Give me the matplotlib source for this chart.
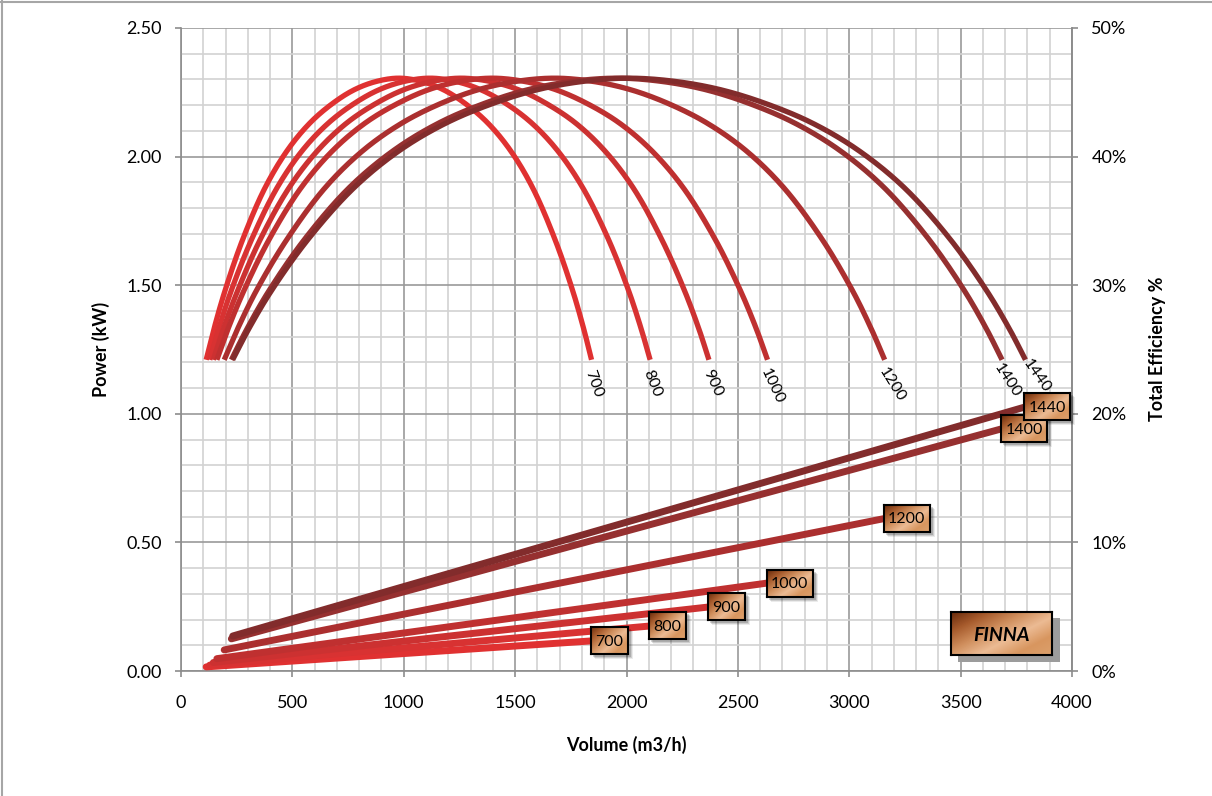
import numpy as np
import matplotlib
matplotlib.use("Agg")
import matplotlib.pyplot as plt
from matplotlib.colors import LinearSegmentedColormap
from matplotlib.patches import Rectangle
from matplotlib.lines import Line2D
from matplotlib.ticker import MultipleLocator, FuncFormatter

# fan speeds (rpm)
speeds = [700, 800, 900, 1000, 1200, 1400, 1440]

# efficiency curves: volume points per speed, efficiency in %
eff_pct = [24.2, 26.6, 29.6, 33.6, 37.6, 40.5, 42.6, 44.1, 45.2, 45.85, 46.1,
           45.85, 45.2, 44.1, 42.6, 40.5, 37.6, 33.6, 29.6, 26.6, 24.2]
q700 = [113, 148, 198, 278, 378, 478, 578, 678, 778, 878, 978,
        1078, 1178, 1278, 1378, 1478, 1578, 1678, 1758, 1808, 1843]
q800 = [129, 169, 226, 318, 432, 546, 661, 775, 889, 1003, 1118,
        1232, 1346, 1461, 1575, 1689, 1803, 1918, 2009, 2066, 2106]
q900 = [145, 190, 255, 357, 486, 615, 743, 872, 1000, 1129, 1257,
        1386, 1515, 1643, 1772, 1900, 2029, 2157, 2260, 2325, 2370]
q1000 = [161, 211, 283, 397, 540, 683, 826, 969, 1111, 1254, 1397,
         1540, 1683, 1826, 1969, 2111, 2254, 2397, 2511, 2583, 2633]
q1200 = [194, 254, 339, 477, 648, 819, 991, 1162, 1334, 1505, 1677,
         1848, 2019, 2191, 2362, 2534, 2705, 2877, 3014, 3099, 3159]
q1400 = [226, 296, 396, 556, 756, 956, 1156, 1356, 1556, 1756, 1956,
         2156, 2356, 2556, 2756, 2956, 3156, 3356, 3516, 3616, 3686]
q1440 = [232, 304, 407, 572, 778, 983, 1189, 1395, 1600, 1806, 2012,
         2218, 2423, 2629, 2835, 3040, 3246, 3452, 3616, 3719, 3791]
eff_q = [q700, q800, q900, q1000, q1200, q1400, q1440]

# power lines (kW)
pw_q_start = [113, 129, 145, 161, 194, 226, 232]
pw_start = [0.016, 0.023, 0.033, 0.048, 0.082, 0.125, 0.136]
pw_q_end = [1843, 2106, 2370, 2633, 3159, 3686, 3791]
pw_end = [0.117, 0.175, 0.249, 0.342, 0.593, 0.942, 1.027]

labels = [str(s) for s in speeds]

colors = ["#e03131", "#d83232", "#cc3131", "#bf3030", "#ab2f2f", "#963030", "#822c2c"]
label_rot = [-70, -68, -65, -65, -58, -57, -55]
label_off = [(1.5, -17), (1.5, -17), (2.5, -17), (3.5, -19), (5, -18), (3.5, -15), (8, -12)]

W, H = 1212, 796
plt.rcParams["font.family"] = ["Lato", "DejaVu Sans"]

brown = LinearSegmentedColormap.from_list(
    "brown", ["#6a2c0c", "#a65a2c", "#cf8e5c", "#ecbb94", "#d8965f", "#dca06c"])


def smooth_line(x, y, sx=4000 / 891, sy=50 / 643, steps=24):
    # centripetal Catmull-Rom in pixel space (smoothed line like the original)
    p = np.column_stack([np.asarray(x, float) / sx, np.asarray(y, float) / sy])
    p = np.vstack([2 * p[0] - p[1], p, 2 * p[-1] - p[-2]])
    out = []
    for i in range(1, len(p) - 2):
        P0, P1, P2, P3 = p[i - 1], p[i], p[i + 1], p[i + 2]
        t0 = 0.0
        t1 = t0 + np.linalg.norm(P1 - P0) ** 0.5
        t2 = t1 + np.linalg.norm(P2 - P1) ** 0.5
        t3 = t2 + np.linalg.norm(P3 - P2) ** 0.5
        t = np.linspace(t1, t2, steps, endpoint=False)[:, None]
        A1 = (t1 - t) / (t1 - t0) * P0 + (t - t0) / (t1 - t0) * P1
        A2 = (t2 - t) / (t2 - t1) * P1 + (t - t1) / (t2 - t1) * P2
        A3 = (t3 - t) / (t3 - t2) * P2 + (t - t2) / (t3 - t2) * P3
        B1 = (t2 - t) / (t2 - t0) * A1 + (t - t0) / (t2 - t0) * A2
        B2 = (t3 - t) / (t3 - t1) * A2 + (t - t1) / (t3 - t1) * A3
        out.append((t2 - t) / (t2 - t1) * B1 + (t - t1) / (t2 - t1) * B2)
    out.append(p[-2][None, :])
    out = np.vstack(out)
    return out[:, 0] * sx, out[:, 1] * sy


def gradient(w, h):
    yy, xx = np.mgrid[0:1:complex(0, max(h, 2)), 0:1:complex(0, max(w, 2))]
    return brown(0.55 * xx + 0.45 * yy)


fig = plt.figure(figsize=(W / 100, H / 100), dpi=100)
ax = fig.add_axes([181 / W, 1 - 671 / H, 891 / W, 643 / H])
ax2 = ax.twinx()

ax.set_xlim(0, 4000)
ax.set_ylim(0, 2.5)
ax2.set_ylim(0, 50)

ax.xaxis.set_major_locator(MultipleLocator(500))
ax.xaxis.set_minor_locator(MultipleLocator(100))
ax.yaxis.set_major_locator(MultipleLocator(0.5))
ax.yaxis.set_minor_locator(MultipleLocator(0.1))
ax.yaxis.set_major_formatter(FuncFormatter(lambda v, p: f"{v:.2f}"))
ax2.yaxis.set_major_locator(MultipleLocator(10))
ax2.yaxis.set_major_formatter(FuncFormatter(lambda v, p: f"{v:.0f}%"))

ax.set_axisbelow(True)
ax.grid(which="minor", color="#d2d2d2", lw=1.2)
ax.grid(which="major", color="#9a9a9a", lw=1.2)

gray = "#8c8c8c"
for a in (ax, ax2):
    a.spines["top"].set_visible(False)
    for s in ("left", "right", "bottom"):
        a.spines[s].set_color(gray)
        a.spines[s].set_linewidth(1.2)
ax2.spines["left"].set_visible(False)
ax2.spines["bottom"].set_visible(False)
ax.tick_params(which="major", length=4, width=1.2, color=gray, labelsize=13)
ax.tick_params(axis="y", pad=10)
ax.tick_params(axis="x", pad=13)
ax.tick_params(which="minor", length=0)
ax2.tick_params(which="major", length=4, width=1.2, color=gray, labelsize=13, pad=10)

# power lines
for qs, ps, qe, pe, c in zip(pw_q_start, pw_start, pw_q_end, pw_end, colors):
    ax.plot([qs, qe], [ps, pe], color=c, lw=5, solid_capstyle="round", zorder=3)

# efficiency curves
for q, c, lab, rot, off in zip(eff_q, colors, labels, label_rot, label_off):
    xs, ys = smooth_line(q, eff_pct)
    ax2.plot(xs, ys, color=c, lw=3.8, solid_capstyle="butt", zorder=3)
    ax2.annotate(lab, (q[-1], eff_pct[-1]), xytext=off, textcoords="offset points",
                 rotation=rot, ha="center", va="center", fontsize=11.5,
                 rotation_mode="anchor")

# label boxes at the end of the power lines
for qe, pe, lab in zip(pw_q_end, pw_end, labels):
    x0, y0 = ax.transData.transform((qe, pe))
    bw, bh = 10 + 9 * len(lab), 27
    left, bottom = x0 - 1, y0 - bh / 2
    for k, a in enumerate((0.16, 0.12, 0.08)):
        ax2.add_patch(Rectangle(((left + 2 + k) / W, (bottom - 3 - k) / H), (bw + 1) / W, (bh + 1) / H,
                                transform=fig.transFigure, facecolor="black", alpha=a,
                                edgecolor="none", clip_on=False, zorder=10))
    bx = fig.add_axes([left / W, bottom / H, bw / W, bh / H])
    bx.imshow(gradient(bw, bh), aspect="auto", extent=(0, 1, 0, 1))
    bx.set_xticks([])
    bx.set_yticks([])
    for s in bx.spines.values():
        s.set_color("black")
        s.set_linewidth(1.5)
    bx.text(0.5, 0.47, lab, ha="center", va="center", fontsize=11.5, transform=bx.transAxes)

# FINNA badge
ax2.add_patch(Rectangle((958 / W, 1 - 662 / H), 102 / W, 44 / H, transform=fig.transFigure,
                        facecolor="#9c9c9c", edgecolor="none", clip_on=False, zorder=10))
fx = fig.add_axes([951 / W, 1 - 655 / H, 101 / W, 43 / H])
fx.imshow(gradient(101, 43), aspect="auto", extent=(0, 1, 0, 1))
fx.set_xticks([])
fx.set_yticks([])
for s in fx.spines.values():
    s.set_color("black")
    s.set_linewidth(1.5)
fx.text(0.5, 0.45, "FINNA", ha="center", va="center", fontsize=14, fontweight="bold",
        fontstyle="italic", transform=fx.transAxes)

# axis titles
fig.text(101 / W, 1 - 349 / H, "Power (kW)", rotation=90, ha="center", va="center",
         fontsize=13, fontweight="bold")
fig.text(1157 / W, 1 - 349 / H, "Total Efficiency %", rotation=90, ha="center", va="center",
         fontsize=13, fontweight="bold")
fig.text(626 / W, 1 - 745 / H, "Volume (m3/h)", ha="center", va="center",
         fontsize=13, fontweight="bold")

# outer chart border (top and left visible)
fig.add_artist(Line2D([2 / W, 2 / W], [0, 1], transform=fig.transFigure, color="#a6a6a6", lw=1.5))
fig.add_artist(Line2D([0, 1], [1 - 1.5 / H, 1 - 1.5 / H], transform=fig.transFigure, color="#a6a6a6", lw=1.5))

fig.savefig("out.png", dpi=100)
